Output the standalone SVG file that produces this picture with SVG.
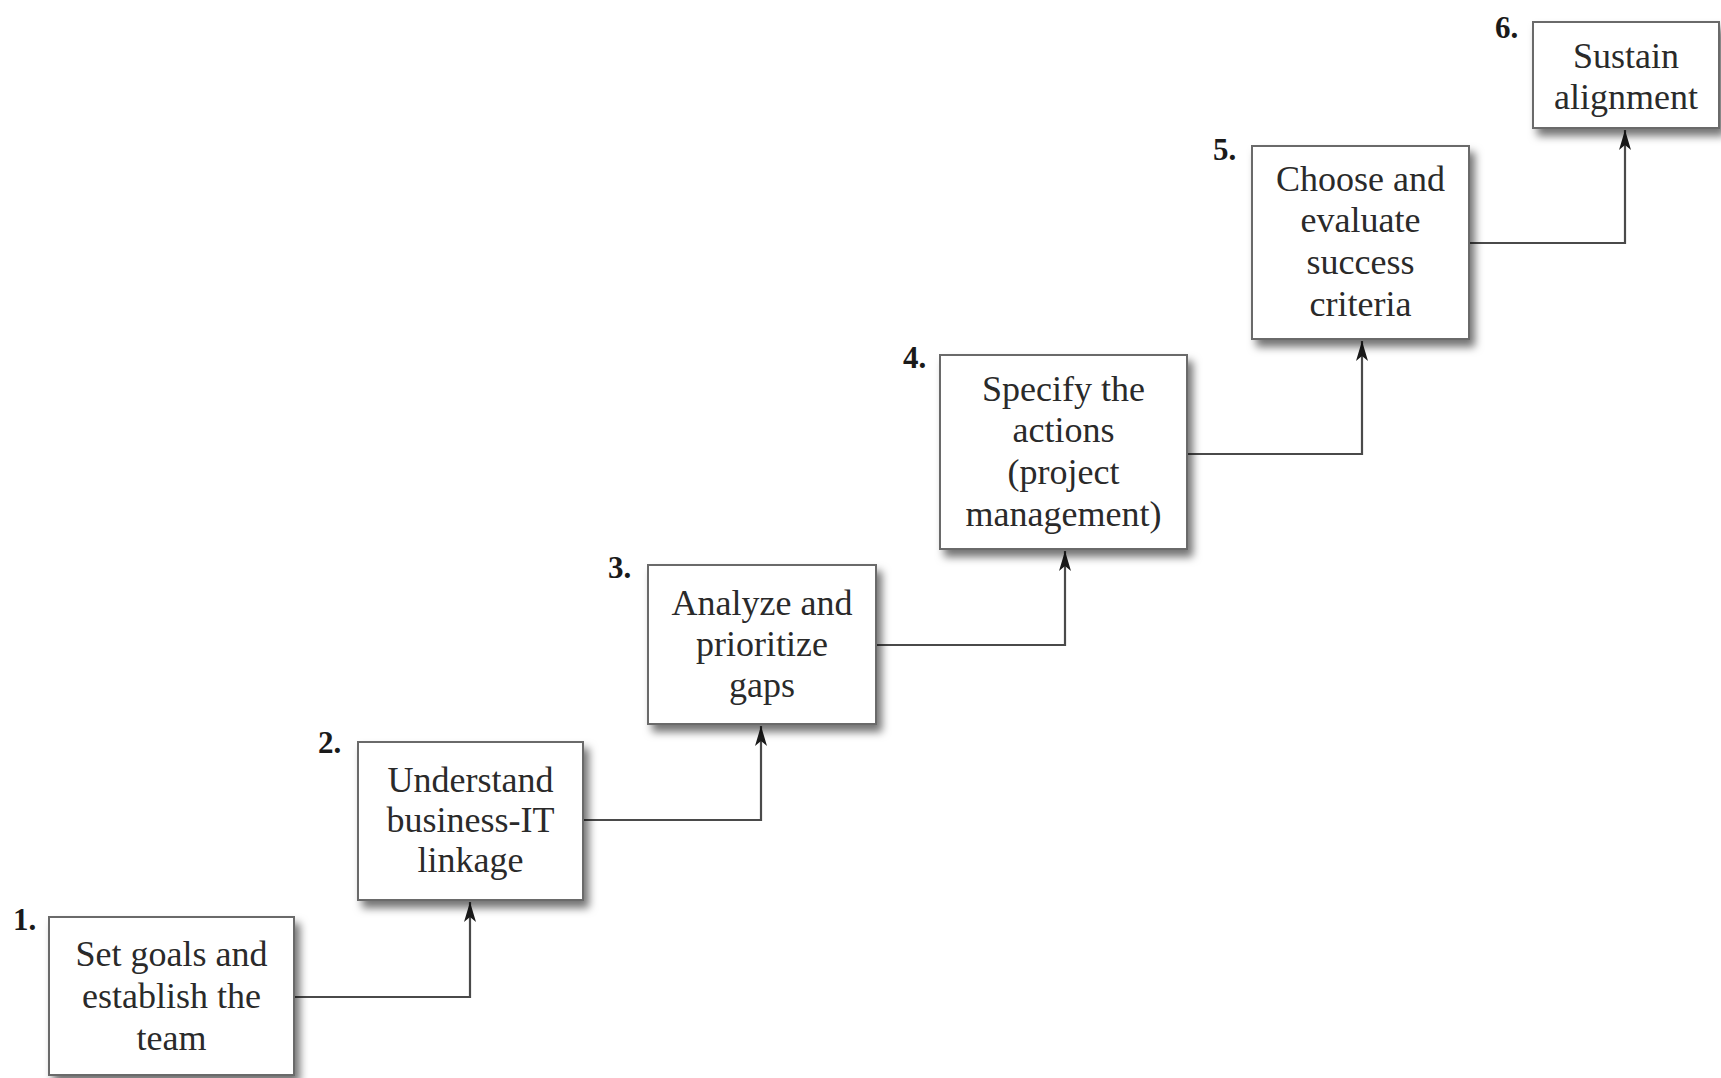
<svg xmlns="http://www.w3.org/2000/svg" width="1721" height="1078" viewBox="0 0 1721 1078">
<style>
.box{fill:#fff;stroke:#6a6a6a;stroke-width:2;filter:url(#sh)}
.t{font-family:"Liberation Serif","Times New Roman",serif;font-size:36px;fill:#2a2a2a;text-anchor:middle}
.n{font-family:"Liberation Serif","Times New Roman",serif;font-size:31px;font-weight:bold;fill:#1a1a1a}
.c{fill:none;stroke:#4a4a4a;stroke-width:2.2}
</style>
<defs>
<filter id="sh" x="-10%" y="-10%" width="130%" height="130%">
<feDropShadow dx="5" dy="7" stdDeviation="4" flood-color="#000" flood-opacity="0.55"/>
</filter>
<marker id="ah" viewBox="0 0 20 12" refX="20" refY="6" markerWidth="20" markerHeight="12" markerUnits="userSpaceOnUse" orient="auto">
<path d="M20,6 L0,0 L5,6 L0,12 Z" fill="#1a1a1a"/>
</marker>
</defs>
<g id="connectors">
<path class="c" d="M294,997 H470 V902" marker-end="url(#ah)"/>
<path class="c" d="M583,820 H761 V726" marker-end="url(#ah)"/>
<path class="c" d="M876,645 H1065 V551" marker-end="url(#ah)"/>
<path class="c" d="M1187,454 H1362 V341" marker-end="url(#ah)"/>
<path class="c" d="M1469,243 H1625 V130" marker-end="url(#ah)"/>
</g>
<g id="node1">
<rect class="box" x="49" y="917" width="245" height="158"/>
<text class="n" x="13" y="930">1.</text>
<text class="t" x="171.5" y="966">Set goals and</text>
<text class="t" x="171.5" y="1008">establish the</text>
<text class="t" x="171.5" y="1050">team</text>
</g>
<g id="node2">
<rect class="box" x="358" y="742" width="225" height="158"/>
<text class="n" x="318" y="753">2.</text>
<text class="t" x="470.5" y="792">Understand</text>
<text class="t" x="470.5" y="832">business-IT</text>
<text class="t" x="470.5" y="872">linkage</text>
</g>
<g id="node3">
<rect class="box" x="648" y="565" width="228" height="159"/>
<text class="n" x="608" y="578">3.</text>
<text class="t" x="762" y="615">Analyze and</text>
<text class="t" x="762" y="656">prioritize</text>
<text class="t" x="762" y="697">gaps</text>
</g>
<g id="node4">
<rect class="box" x="940" y="355" width="247" height="194"/>
<text class="n" x="903" y="368">4.</text>
<text class="t" x="1063.5" y="401">Specify the</text>
<text class="t" x="1063.5" y="442">actions</text>
<text class="t" x="1063.5" y="484">(project</text>
<text class="t" x="1063.5" y="526">management)</text>
</g>
<g id="node5">
<rect class="box" x="1252" y="146" width="217" height="193"/>
<text class="n" x="1213" y="160">5.</text>
<text class="t" x="1360.5" y="191">Choose and</text>
<text class="t" x="1360.5" y="232">evaluate</text>
<text class="t" x="1360.5" y="274">success</text>
<text class="t" x="1360.5" y="316">criteria</text>
</g>
<g id="node6">
<rect class="box" x="1533" y="22" width="186" height="106"/>
<text class="n" x="1495" y="38">6.</text>
<text class="t" x="1626" y="68">Sustain</text>
<text class="t" x="1626" y="109">alignment</text>
</g>
</svg>
